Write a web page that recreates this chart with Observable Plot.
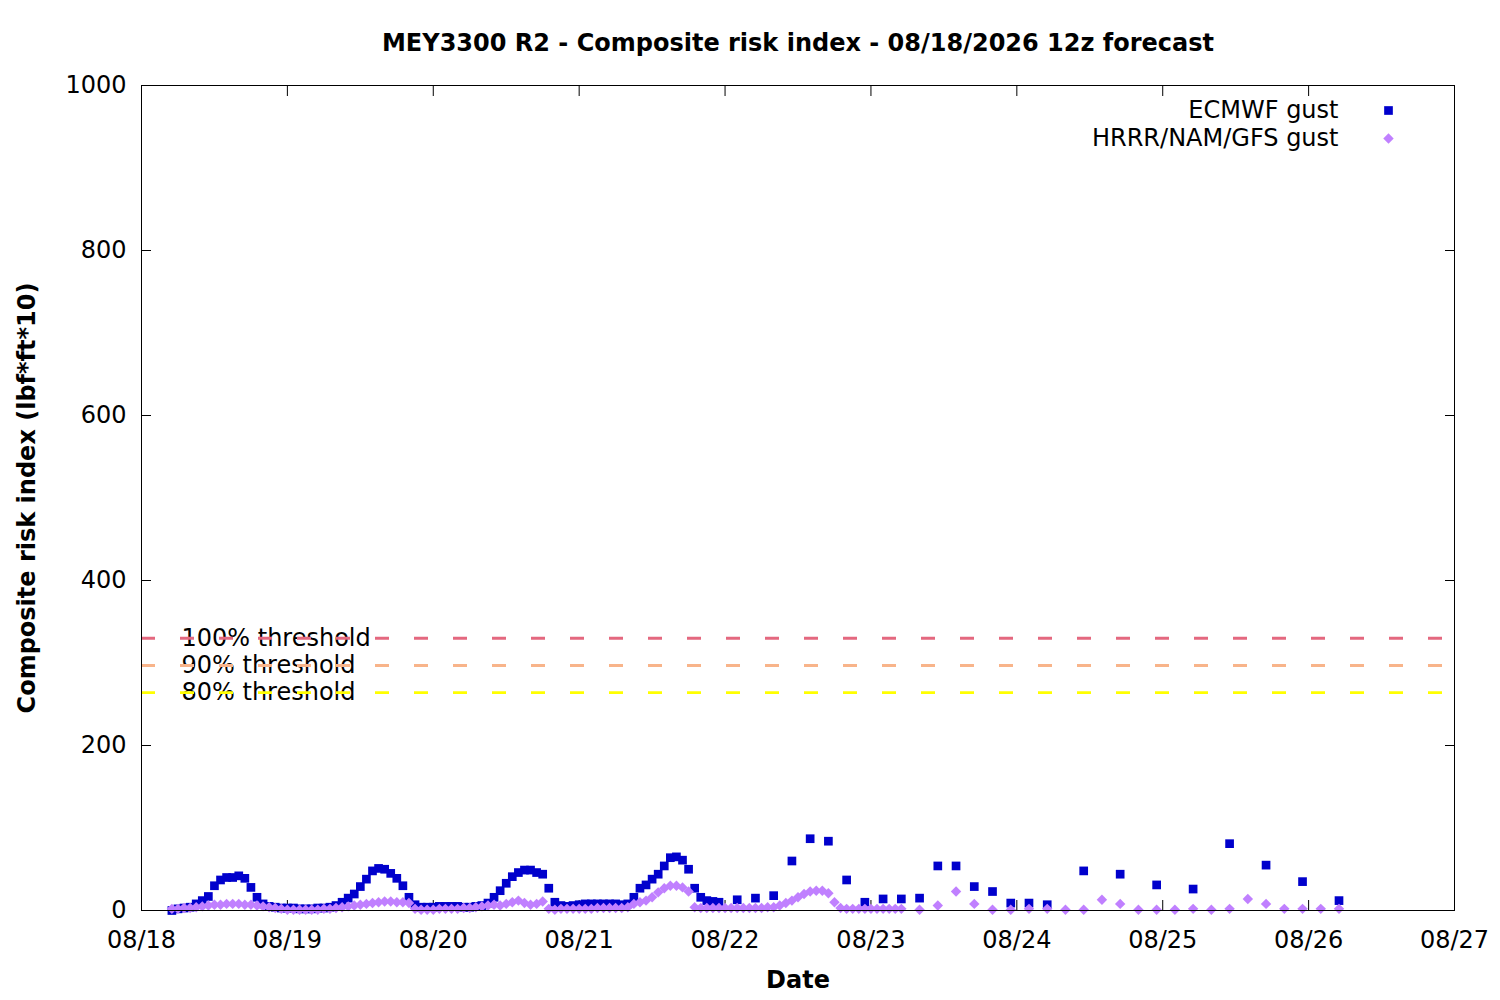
<!DOCTYPE html>
<html>
<head>
<meta charset="utf-8">
<script src="https://cdn.jsdelivr.net/npm/d3@7"></script>
<script src="https://cdn.jsdelivr.net/npm/@observablehq/plot@0.6"></script>
<style>
  body { margin: 0; background: #ffffff; }
  #chart svg { display: block; }
</style>
</head>
<body>
<div id="chart"></div>
<script>
// ---- Tick labels ----
const dateLabels = ["08/18", "08/19", "08/20", "08/21", "08/22", "08/23", "08/24", "08/25", "08/26", "08/27"];
const dayHours = [0, 24, 48, 72, 96, 120, 144, 168, 192, 216];
const yTicks = [0, 200, 400, 600, 800, 1000];

// ---- Title / labels ----
const titleText = "MEY3300 R2 - Composite risk index - 08/18/2026 12z forecast";
const yLabel = "Composite risk index (lbf*ft*10)";
const xLabel = "Date";
const seriesNames = ["ECMWF gust", "HRRR/NAM/GFS gust"];

// ---- Thresholds ----
const thresholdLabels = ["100% threshold", "90% threshold", "80% threshold"];
const thresholdValues = [330, 297, 264];

// ---- ECMWF gust (hours since 08/18 00) ----
const ecmwfHourlyStart = 5;   // hourly h5..h95
const ecmwfHourly = [
  0, 2, 3, 4, 8, 12, 17, 30, 37, 40,
  40, 42, 39, 28, 16, 8, 5, 4, 3, 3,
  3, 2, 2, 2, 3, 3, 4, 6, 10, 15,
  20, 29, 38, 48, 51, 50, 45, 39, 30, 16,
  7, 4, 4, 4, 5, 5, 5, 5, 4, 4,
  5, 6, 9, 16, 24, 33, 41, 46, 49, 49,
  46, 44, 27, 10, 6, 5, 6, 7, 8, 8,
  8, 8, 8, 8, 7, 8, 16, 27, 31, 38,
  44, 54, 64, 65, 61, 50, 27, 16, 12, 11, 10
];
const ecmwf3hStart = 98;      // 3-hourly h98..h149
const ecmwf3h = [13, 15, 18, 60, 87, 84, 37, 10, 14, 14, 15, 54, 54, 29, 23, 9, 9, 7];
const ecmwf6hStart = 155;     // 6-hourly h155..h197
const ecmwf6h = [48, 44, 31, 26, 81, 55, 35, 12];

// ---- HRRR/NAM/GFS gust ----
const hrrrHourlyStart = 5;    // hourly h5..h125
const hrrrHourly = [
  2, 2, 3, 3, 4, 5, 6, 7, 7, 8,
  8, 8, 7, 7, 6, 5, 4, 3, 2, 1,
  1, 1, 1, 1, 1, 2, 2, 3, 4, 5,
  6, 7, 8, 9, 10, 11, 11, 10, 10, 9,
  2, 1, 1, 1, 2, 2, 2, 2, 3, 3,
  4, 5, 6, 7, 6, 8, 10, 12, 9, 7,
  8, 11, 2, 1, 2, 2, 2, 2, 2, 2,
  3, 3, 3, 3, 3, 4, 8, 10, 12, 16,
  22, 27, 30, 30, 28, 23, 4, 3, 3, 3,
  3, 3, 3, 3, 3, 3, 3, 3, 4, 4,
  6, 9, 12, 16, 20, 23, 24, 24, 21, 10,
  3, 2, 2, 2, 2, 2, 2, 2, 2, 2, 2
];
const hrrr3hStart = 128;      // 3-hourly h128..h197
const hrrr3h = [1, 6, 23, 8, 1, 1, 2, 2, 1, 1, 13, 8, 1, 1, 1, 2, 1, 2, 14, 8, 2, 2, 2, 2];

// ---- Build tables ----
function build(start, step, values) {
  return values.map((v, i) => ({hour: start + step * i, value: v}));
}
const ecmwf = [
  ...build(ecmwfHourlyStart, 1, ecmwfHourly),
  ...build(ecmwf3hStart, 3, ecmwf3h),
  ...build(ecmwf6hStart, 6, ecmwf6h)
];
const hrrr = [
  ...build(hrrrHourlyStart, 1, hrrrHourly),
  ...build(hrrr3hStart, 3, hrrr3h)
];
const thresholds = thresholdValues.map((v, i) => ({value: v, label: thresholdLabels[i]}));

const ecmwfColor = "#0000cc";
const hrrrColor = "#c080ff";
const thresholdColors = ["#e4687f", "#f8b48a", "#ffff00"];
const font = "DejaVu Sans";
const fs = 24;

const chart = Plot.plot({
  width: 1500,
  height: 1000,
  marginLeft: 141,
  marginRight: 46,
  marginTop: 85,
  marginBottom: 90,
  style: {fontFamily: font, fontSize: fs + "px", background: "#ffffff", color: "#000000", overflow: "visible"},
  x: {domain: [0, 216]},
  y: {domain: [0, 1000]},
  marks: [
    Plot.axisX({ticks: dayHours, anchor: "bottom", tickSize: 0, tickPadding: 20, tickFormat: d => dateLabels[dayHours.indexOf(d)], fontSize: fs, label: null}),
    Plot.axisX({ticks: dayHours, anchor: "bottom", tickSize: -10, tickFormat: () => "", label: null}),
    Plot.axisX({ticks: dayHours, anchor: "top", tickSize: -10, tickFormat: () => "", label: null}),
    Plot.axisY({ticks: yTicks, anchor: "left", tickSize: 0, tickPadding: 15, tickFormat: d => String(d), fontSize: fs, label: null}),
    Plot.axisY({ticks: yTicks, anchor: "left", tickSize: -10, tickFormat: () => "", label: null}),
    Plot.axisY({ticks: yTicks, anchor: "right", tickSize: -10, tickFormat: () => "", label: null}),

    // threshold labels, then dashed lines on top
    Plot.text(thresholds, {y: "value", text: "label", frameAnchor: "left", dx: 40, textAnchor: "start", lineAnchor: "middle", fontSize: fs, fill: "#000"}),
    Plot.ruleY(thresholds, {y: "value", stroke: (d, i) => thresholdColors[i], strokeWidth: 2.8, strokeDasharray: "14,25"}),

    // data
    Plot.dot(ecmwf, {x: "hour", y: "value", symbol: "square", r: 4.9, fill: ecmwfColor, stroke: null}),
    Plot.dot(hrrr, {x: "hour", y: "value", symbol: "diamond2", r: 4.7, fill: hrrrColor, stroke: null}),

    // legend
    Plot.text([seriesNames[0]], {text: d => d, frameAnchor: "top-right", dx: -116, dy: 25, textAnchor: "end", lineAnchor: "middle", fontSize: fs}),
    Plot.dot([seriesNames[0]], {frameAnchor: "top-right", dx: -66, dy: 25, symbol: "square", r: 4.9, fill: ecmwfColor}),
    Plot.text([seriesNames[1]], {text: d => d, frameAnchor: "top-right", dx: -116, dy: 53, textAnchor: "end", lineAnchor: "middle", fontSize: fs}),
    Plot.dot([seriesNames[1]], {frameAnchor: "top-right", dx: -66, dy: 53, symbol: "diamond2", r: 4.7, fill: hrrrColor}),

    // titles
    Plot.text([titleText], {text: d => d, frameAnchor: "top", dy: -42, textAnchor: "middle", lineAnchor: "middle", fontSize: fs, fontWeight: "bold"}),
    Plot.text([yLabel], {text: d => d, frameAnchor: "left", dx: -114, rotate: -90, textAnchor: "middle", lineAnchor: "middle", fontSize: fs, fontWeight: "bold"}),
    Plot.text([xLabel], {text: d => d, frameAnchor: "bottom", dy: 70, textAnchor: "middle", lineAnchor: "middle", fontSize: fs, fontWeight: "bold"}),

    Plot.frame({stroke: "#000", strokeWidth: 1})
  ]
});
document.getElementById("chart").appendChild(chart);
</script>
</body>
</html>
